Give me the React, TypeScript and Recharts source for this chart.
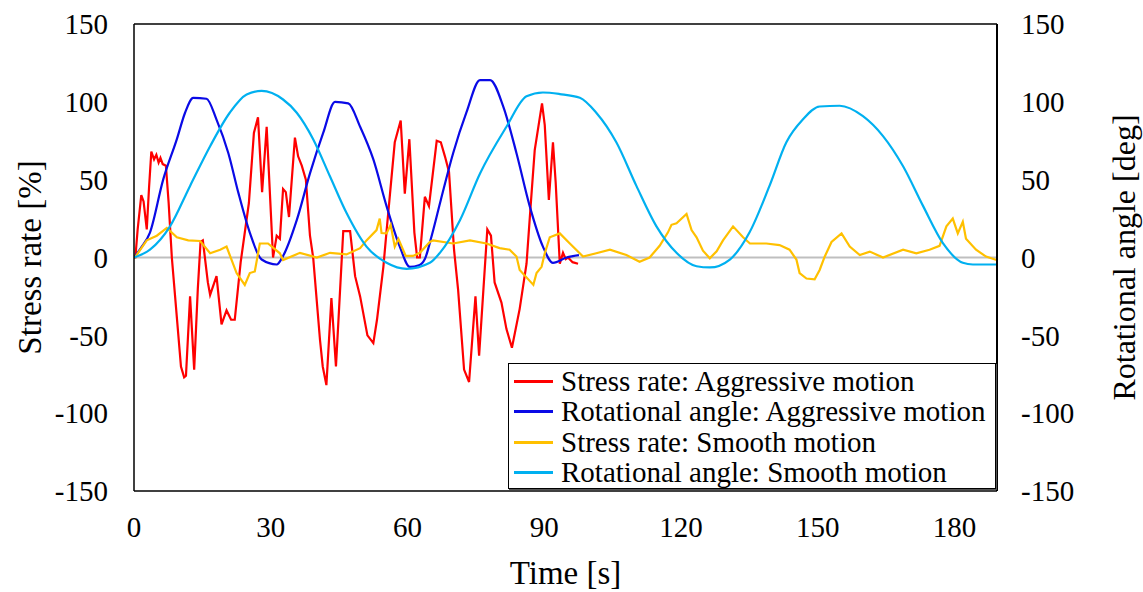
import { LineChart, Line, XAxis, YAxis, ReferenceLine, Legend } from "recharts";

// [time s, value]
const stressAggressive: [number, number][] = [
  [0, 0], [0.3, 0], [0.8, 18], [1.6, 40], [2.1, 36], [2.8, 18], [3.3, 45], [3.8, 68], [4.4, 63],
  [4.9, 66], [5.4, 61], [5.8, 64], [6.3, 60], [7.0, 59], [7.6, 35], [8.3, 0], [9.5, -42],
  [10.3, -70], [11.0, -77], [11.4, -76], [12.3, -25], [13.2, -72], [14.0, -20], [14.6, 10],
  [15.1, 11], [16.2, -16], [16.7, -24], [18.1, -12], [19.2, -43], [20.3, -34], [21.3, -40],
  [22.1, -40], [23.4, -3], [25.2, 35], [26.3, 80], [27.2, 90], [28.1, 42], [29.1, 84], [30.5, 0],
  [31.3, 14], [32.0, 12], [32.7, 44], [33.3, 42], [34.0, 26], [35.3, 77], [36.0, 65], [36.8, 59],
  [37.7, 50], [38.6, 14], [39.3, 0], [40.8, -53], [41.4, -70], [42.2, -82], [43.3, -26],
  [44.3, -70], [45.9, 17], [47.4, 17], [48.5, -12], [49.6, -25], [51.2, -50], [52.5, -55],
  [53.3, -40], [54.7, -6], [55.4, 17], [57.2, 74], [58.5, 88], [59.4, 41], [60.4, 76], [61.5, 16],
  [62.1, 0], [62.7, 0], [63.8, 39], [64.7, 33], [66.4, 75], [67.3, 74], [68.2, 65], [69.1, 55],
  [70.2, 5], [71.1, -21], [72.4, -72], [73.5, -80], [74.9, -25], [75.7, -63], [77.5, 18],
  [78.3, 14], [79.1, -16], [80.6, -29], [81.7, -46], [82.9, -58], [84.6, -33], [86.1, -4],
  [87.0, 33], [87.9, 69], [89.5, 99], [90.1, 85], [91.0, 37], [91.9, 74], [92.5, 48], [93.4, -4],
  [94.1, 3], [94.7, -1], [95.2, 0], [96.2, -3], [97.4, -4],
];

const angleAggressive: [number, number][] = [
  [0, 0], [1.5, 6], [3.5, 16], [6.4, 50], [9.4, 76], [11.2, 93], [13.0, 102.6], [15.9, 102],
  [18.1, 88.6], [20.7, 67], [22.9, 41.5], [25.4, 16], [28.0, -1.3], [31.3, -4.5], [32.7, 1],
  [35.7, 24], [38.6, 54], [41.5, 80], [44.1, 100], [47.0, 99], [49.6, 84], [52.5, 63], [55.4, 33],
  [58.3, 7], [60.5, -6], [62.5, -5], [63.8, -1], [65.3, 14], [67.3, 37], [70.0, 67], [72.9, 93],
  [75.9, 114], [78.1, 114], [81.0, 97], [83.9, 67], [86.8, 33], [89.7, 7], [91.9, -3.4],
  [94.9, 0], [97.6, 1.5],
];

const stressSmooth: [number, number][] = [
  [0, 0], [0.2, 0], [2.8, 11], [5.0, 14], [7.2, 19], [9.4, 13], [11.9, 11], [14.5, 10.6],
  [16.7, 2.7], [18.9, 5], [20.3, 7], [22.5, -10], [24.3, -17.6], [25.4, -10], [26.5, -9],
  [27.6, 9], [29.4, 9], [32.0, 2.7], [32.7, -1.6], [36.4, 3], [40.1, 0], [43.0, 3], [46.6, 2],
  [49.6, 6], [51.0, 11], [53.2, 17.6], [53.9, 25], [54.3, 15.7], [55.4, 15.5], [56.3, 21],
  [57.2, 7], [58.0, 12], [59.6, 1], [61.2, 1], [62.7, 3], [64.9, 10], [65.6, 11], [70.0, 9],
  [73.7, 11], [77.3, 9], [80.2, 6], [82.4, 5], [83.9, 0.6], [84.6, -8], [87.6, -17.6],
  [88.3, -10], [89.4, -6], [90.1, 2.7], [91.2, 13], [93.4, 15.5], [95.6, 9], [98.5, 0.6],
  [101.4, 2.7], [104.4, 5], [108.0, 1.6], [110.9, -2.7], [113.1, 0], [115.3, 7.5], [117.1, 16],
  [117.9, 21], [119.0, 22], [121.2, 28], [122.3, 17.6], [123.4, 13], [124.8, 4.4], [126.3, -0.5],
  [127.8, 4], [129.2, 11], [131.4, 20], [133.6, 13], [135.1, 9], [138.7, 9], [141.6, 8],
  [143.8, 5], [145.3, -1.3], [146.0, -10], [147.5, -13.5], [149.3, -14], [150.4, -8],
  [151.5, 0.5], [153.0, 10], [155.2, 15.5], [157.0, 7], [159.2, 1.6], [161.4, 3.8], [164.3, 0],
  [168.7, 5], [171.6, 2.7], [174.5, 5], [176.7, 7.5], [178.2, 20], [179.6, 25], [180.7, 15.5],
  [181.8, 23], [182.5, 12], [184.7, 5], [186.9, 0.6], [189.2, -1.6],
];

const angleSmooth: [number, number][] = [
  [0, 0], [3.5, 5], [7.9, 20], [12.3, 46], [16.7, 71.5], [21.0, 93], [24.7, 104.7], [28.0, 107],
  [32.7, 101.5], [35.7, 93], [39.3, 76], [43.0, 52], [46.6, 28.7], [51.0, 7], [55.4, -3.4],
  [59.8, -7.3], [64.9, -3.4], [67.1, 3], [71.5, 24], [75.9, 54], [81.7, 84], [86.1, 103.6],
  [89.7, 106], [93.4, 105], [97.8, 102.6], [101.4, 93], [105.8, 74], [110.2, 46], [114.6, 20],
  [119.0, 3], [123.4, -5.6], [126.3, -6.4], [130.7, -1.3], [135.0, 16], [139.4, 46], [143.1, 74],
  [146.7, 88.6], [150.4, 97], [154.8, 97.5], [159.9, 90.8], [164.3, 78], [168.7, 58.6],
  [173.1, 33], [177.4, 9.4], [181.8, -3.4], [184.0, -4.5], [189.4, -4.5],
];

const xTicks = [0, 30, 60, 90, 120, 150, 180];
const yTicks = [-150, -100, -50, 0, 50, 100, 150];

const SERIES = [
  { name: "Stress rate: Aggressive motion", data: stressAggressive, color: "#ff0000", axis: "left", curve: "linear" },
  { name: "Rotational angle: Aggressive motion", data: angleAggressive, color: "#0a0ae6", axis: "right", curve: "monotone" },
  { name: "Stress rate: Smooth motion", data: stressSmooth, color: "#ffc000", axis: "left", curve: "linear" },
  { name: "Rotational angle: Smooth motion", data: angleSmooth, color: "#00b0f0", axis: "right", curve: "monotone" },
] as const;

const FONT = "'Liberation Serif', 'Times New Roman', serif";
const tickStyle = { fontSize: 29, fill: "#000", fontFamily: FONT };

function toRows(d: readonly [number, number][]) {
  return d.map(([t, v]) => ({ t, v }));
}

function LegendBox() {
  return (
    <div
      style={{
        width: 488,
        height: 126,
        border: "1.5px solid #000",
        boxShadow: "1px 1px 0 #555",
        background: "#fff",
        fontFamily: FONT,
        fontSize: 29,
        color: "#000",
        boxSizing: "border-box",
        paddingTop: 2,
      }}
    >
      {SERIES.map((s) => (
        <div key={s.name} style={{ display: "flex", alignItems: "center", height: 30.5, whiteSpace: "nowrap" }}>
          <span style={{ display: "inline-block", width: 39, height: 3, background: s.color, marginLeft: 5, marginRight: 8 }} />
          <span>{s.name}</span>
        </div>
      ))}
    </div>
  );
}

export default function App() {
  return (
    <div style={{ position: "absolute", left: 0, top: 0, background: "#fff" }}>
      <LineChart width={1143} height={592} margin={{ top: 24, right: 0, bottom: 0, left: 0 }}>
        <XAxis
          type="number"
          dataKey="t"
          domain={[0, 189.3]}
          ticks={xTicks}
          allowDataOverflow
          tickLine={false}
          tickSize={0}
          tickMargin={25}
          height={101}
          axisLine={{ stroke: "#000", strokeWidth: 1.5 }}
          tick={tickStyle}
          label={{ value: "Time [s]", position: "insideBottom", offset: 8, style: { fontSize: 33, fill: "#000", fontFamily: FONT } }}
        />
        <YAxis
          yAxisId="left"
          domain={[-150, 150]}
          ticks={yTicks}
          width={134}
          tickLine={false}
          tickSize={0}
          tickMargin={26}
          axisLine={{ stroke: "#000", strokeWidth: 1.5 }}
          tick={tickStyle}
          label={{ value: "Stress rate [%]", angle: -90, position: "insideLeft", offset: 29, style: { fontSize: 33, fill: "#000", fontFamily: FONT, textAnchor: "middle" } }}
        />
        <YAxis
          yAxisId="right"
          orientation="right"
          domain={[-150, 150]}
          ticks={yTicks}
          width={146}
          tickLine={false}
          tickSize={0}
          tickMargin={24}
          axisLine={{ stroke: "#000", strokeWidth: 2 }}
          tick={tickStyle}
          label={{ value: "Rotational angle [deg]", angle: -90, position: "insideRight", offset: 19, style: { fontSize: 32, fill: "#000", fontFamily: FONT, textAnchor: "middle" } }}
        />
        <ReferenceLine yAxisId="left" y={0} stroke="#bfbfbf" strokeWidth={2} />
        <ReferenceLine yAxisId="left" y={150} stroke="#000" strokeWidth={1.5} />
        {SERIES.map((s) => (
          <Line
            key={s.name}
            yAxisId={s.axis}
            data={toRows(s.data)}
            dataKey="v"
            name={s.name}
            type={s.curve}
            stroke={s.color}
            strokeWidth={2.2}
            dot={false}
            activeDot={false}
            isAnimationActive={false}
          />
        ))}
        <Legend
          layout="vertical"
          align="center"
          verticalAlign="middle"
          wrapperStyle={{ left: 508, top: 363, width: 488 }}
          content={() => <LegendBox />}
        />
      </LineChart>
    </div>
  );
}
